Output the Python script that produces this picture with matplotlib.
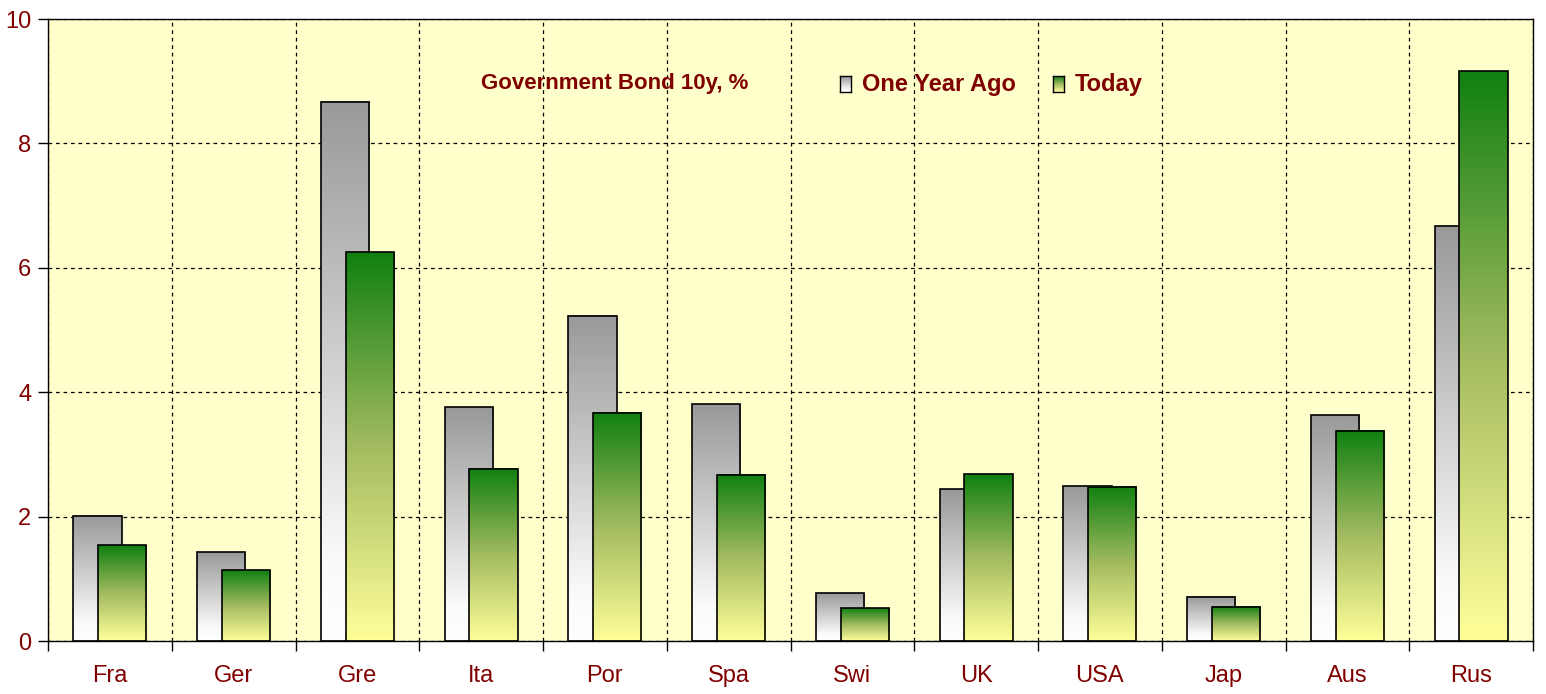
import numpy as np
import matplotlib
matplotlib.use("Agg")
import matplotlib.pyplot as plt
from matplotlib.colors import LinearSegmentedColormap
from matplotlib.patches import Rectangle

countries = ["Fra", "Ger", "Gre", "Ita", "Por", "Spa", "Swi", "UK", "USA", "Jap", "Aus", "Rus"]
year_ago = [2.01, 1.43, 8.67, 3.76, 5.23, 3.81, 0.77, 2.44, 2.49, 0.71, 3.63, 6.67]
today = [1.54, 1.14, 6.25, 2.77, 3.67, 2.67, 0.53, 2.68, 2.48, 0.55, 3.38, 9.16]

dark_red = "#800000"
plt.rcParams["font.family"] = ["Liberation Sans", "DejaVu Sans"]

grey_cmap = LinearSegmentedColormap.from_list(
    "grey", [(0.0, "#ffffff"), (0.15, "#fafafa"), (1.0, "#999999")])
green_cmap = LinearSegmentedColormap.from_list(
    "green", [(0.0, "#ffff99"), (0.5, "#a3bb60"), (1.0, "#108010")])
grad = np.linspace(0, 1, 256).reshape(-1, 1)

W, H = 1546, 694
fig = plt.figure(figsize=(W / 100, H / 100), dpi=100)
ax = fig.add_axes([48 / W, 53 / H, 1485 / W, 622 / H])
ax.set_facecolor("#ffffcc")

width = 0.39
offset = 0.1


def gradient_bar(x_center, h, cmap, z):
    x0 = x_center - width / 2
    ax.imshow(grad, cmap=cmap, origin="lower", aspect="auto",
              extent=(x0, x0 + width, 0, h), zorder=z, interpolation="bilinear")
    ax.add_patch(Rectangle((x0, 0), width, h, fill=False, edgecolor="black",
                           linewidth=1.2, zorder=z + 0.1))


for i, (g, t) in enumerate(zip(year_ago, today)):
    gradient_bar(i - offset, g, grey_cmap, 2)
    gradient_bar(i + offset, t, green_cmap, 3)

ax.set_xlim(-0.5, len(countries) - 0.5)
ax.set_ylim(0, 10)

ax.set_xticks(range(len(countries)))
ax.set_xticklabels(countries, color=dark_red, fontsize=17)
ax.set_xticks(np.arange(-0.5, len(countries), 1), minor=True)
ax.tick_params(axis="x", which="major", length=0, pad=17)
ax.tick_params(axis="x", which="minor", length=7, width=1)
ax.set_yticks(range(0, 11, 2))
ax.tick_params(axis="y", labelcolor=dark_red, labelsize=17, length=7, width=1, pad=5)

ax.grid(True, axis="x", which="minor", linestyle=(0, (3, 3)), color="black", linewidth=0.9, zorder=1)
ax.grid(True, axis="y", which="major", linestyle=(0, (3, 3)), color="black", linewidth=0.9, zorder=1)
ax.grid(False, axis="x", which="major")

for s in ax.spines.values():
    s.set_linewidth(1.0)
    s.set_zorder(5)

fig.text(615 / W, (H - 83) / H, "Government Bond 10y, %", color=dark_red,
         fontsize=16, fontweight="bold", ha="center", va="center")


def legend_entry(xpix, label, cmap):
    lax = fig.add_axes([xpix / W, (H - 92) / H, 11 / W, 16 / H])
    lax.imshow(grad, cmap=cmap, origin="lower", aspect="auto", extent=(0, 1, 0, 1))
    lax.set_xticks([])
    lax.set_yticks([])
    for s in lax.spines.values():
        s.set_linewidth(1.0)
    fig.text((xpix + 22) / W, (H - 84) / H, label, color=dark_red,
             fontsize=17, fontweight="bold", ha="left", va="center")


legend_entry(840, "One Year Ago", grey_cmap)
legend_entry(1053, "Today", green_cmap)

fig.savefig("out.png", dpi=100, facecolor="white")
